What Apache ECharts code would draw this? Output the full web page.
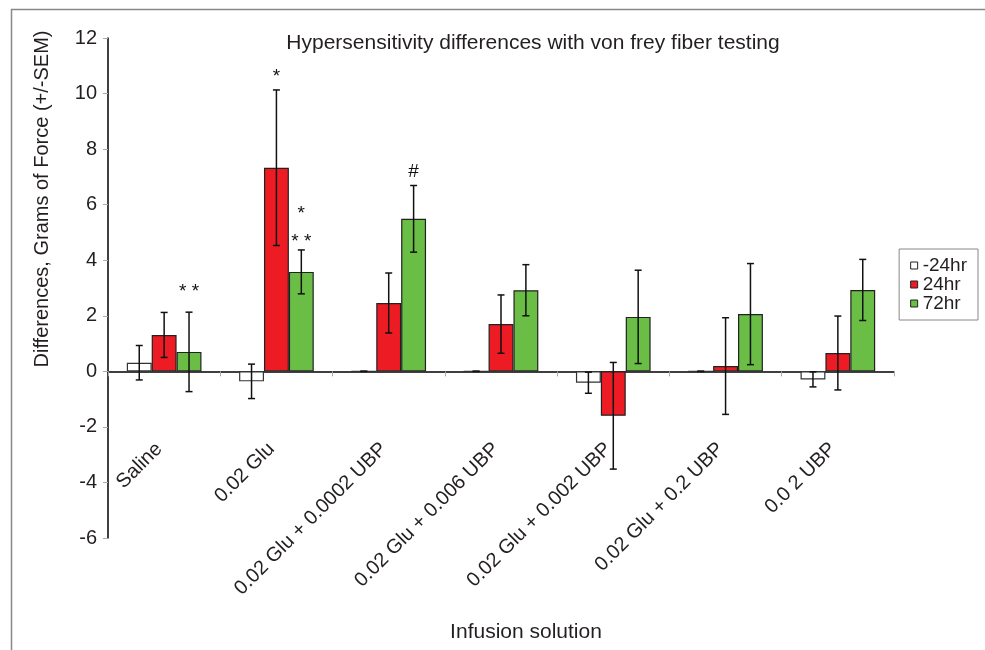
<!DOCTYPE html>
<html>
<head>
<meta charset="utf-8">
<script src="https://cdn.jsdelivr.net/npm/echarts@6/dist/echarts.min.js"></script>
<style>html,body{margin:0;padding:0;background:#fff}#c{width:985px;height:650px}</style>
</head>
<body>
<div id="c"></div>
<script>
const categories = ['Saline', '0.02 Glu', '0.02 Glu + 0.0002 UBP', '0.02 Glu + 0.006 UBP', '0.02 Glu + 0.002 UBP', '0.02 Glu + 0.2 UBP', '0.0 2 UBP'];
const seriesNames = ['-24hr', '24hr', '72hr'];
const valsNeg24 = [0.31, -0.36, 0, 0, -0.41, 0, -0.29];
const vals24 = [1.31, 7.33, 2.46, 1.70, -1.60, 0.19, 0.66];
const vals72 = [0.70, 3.58, 5.49, 2.92, 1.96, 2.06, 2.93];
const semNeg24 = [0.62, 0.62, 0, 0, 0.38, 0, 0.27];
const sem24 = [0.81, 2.80, 1.08, 1.05, 1.92, 1.74, 1.33];
const sem72 = [1.43, 0.79, 1.20, 0.92, 1.68, 1.82, 1.10];
const yTicks = { min: -6, max: 12, interval: 2 };
// annotations: category index, series index, y value (text center), text
const annCat = [0, 1, 1, 1, 2];
const annSeries = [2, 1, 2, 2, 2];
const annY = [2.85, 10.6, 5.69, 4.68, 7.2];
const annText = ['* *', '*', '*', '* *', '#'];

const colors = ['#ffffff', '#ed1c24', '#6abd45'];
const allVals = [valsNeg24, vals24, vals72];
const allSem = [semNeg24, sem24, sem72];
const CAT_GAP = 0.335;

const errData = [];
for (let s = 0; s < 3; s++) for (let c = 0; c < categories.length; c++) errData.push([c, s, allVals[s][c], allSem[s][c]]);
const annData = annCat.map((c, i) => [c, annSeries[i], annY[i]]);

function barX(api, c, s) {
  const band = api.size([1, 0])[0];
  const bw = band * (1 - CAT_GAP) / 3;
  return api.coord([c, 0])[0] + (s - 1) * bw;
}

const FF = 'Liberation Sans, Arial, sans-serif';
const chart = echarts.init(document.getElementById('c'), null, { renderer: 'canvas' });
const txt = '#231f20';
chart.setOption({
  animation: false,
  backgroundColor: '#fff',
  textStyle: { fontFamily: FF },
  title: {
    text: 'Hypersensitivity differences with von frey fiber testing',
    left: 528, top: 28, textAlign: 'center',
    textStyle: { fontSize: 21, fontWeight: 'normal', color: txt, fontFamily: FF }
  },
  legend: {
    orient: 'vertical', right: 7, top: 249,
    data: seriesNames,
    borderColor: '#888', borderWidth: 1, padding: [7, 11, 7, 11],
    itemWidth: 7, itemHeight: 7, itemGap: 0,
    icon: 'rect',
    itemStyle: { borderColor: '#222', borderWidth: 1 },
    textStyle: { fontSize: 19, lineHeight: 18.5, color: txt, padding: [0, 0, 0, 0] }
  },
  grid: { left: 108, right: 91, top: 38, bottom: 112, containLabel: false, outerBoundsMode: 'none' },
  xAxis: {
    type: 'category', data: categories,
    axisLine: { onZero: true, lineStyle: { color: '#000', width: 1.5 } },
    axisTick: { show: true, length: 5, lineStyle: { color: '#aaa' } },
    axisLabel: { rotate: 45, margin: -97, fontSize: 20, color: txt, interval: 0, padding: [0, 7, 0, 0] },
    splitLine: { show: false }
  },
  yAxis: {
    type: 'value', min: yTicks.min, max: yTicks.max, interval: yTicks.interval,
    axisLine: { show: true, lineStyle: { color: '#000', width: 1.5 } },
    axisTick: { show: true, length: 5, lineStyle: { color: '#aaa' } },
    axisLabel: { fontSize: 20, color: txt, margin: 11 },
    splitLine: { show: false }
  },
  graphic: [
    { type: 'line', shape: { x1: 11, y1: 9.5, x2: 985, y2: 9.5 }, style: { stroke: '#888', lineWidth: 1.5 } },
    { type: 'line', shape: { x1: 11.5, y1: 9, x2: 11.5, y2: 650 }, style: { stroke: '#888', lineWidth: 1.5 } },
    { type: 'text', x: 42, y: 199, rotation: Math.PI / 2,
      style: { text: 'Differences, Grams of Force (+/-SEM)', fill: txt, align: 'center', verticalAlign: 'middle', font: '20px Liberation Sans, Arial, sans-serif' } },
    { type: 'text', x: 526, y: 632,
      style: { text: 'Infusion solution', fill: txt, align: 'center', verticalAlign: 'middle', font: '21px Liberation Sans, Arial, sans-serif' } }
  ],
  series: [
    ...seriesNames.map((n, s) => ({
      name: n, type: 'bar', data: allVals[s],
      barGap: '0%', barCategoryGap: (CAT_GAP * 100) + '%',
      itemStyle: { color: colors[s], borderColor: s === 0 ? '#333' : '#222', borderWidth: 1.2 },
      z: 2
    })),
    {
      type: 'custom', name: 'err', z: 5, data: errData,
      renderItem(params, api) {
        const c = api.value(0), s = api.value(1), v = api.value(2), e = api.value(3);
        const x = barX(api, c, s);
        const yt = api.coord([c, v + e])[1];
        const yb = api.coord([c, v - e])[1];
        const st = { stroke: '#111', lineWidth: 1.5 };
        return { type: 'group', children: [
          { type: 'line', shape: { x1: x, y1: yt, x2: x, y2: yb }, style: st },
          { type: 'line', shape: { x1: x - 3.5, y1: yt, x2: x + 3.5, y2: yt }, style: st },
          { type: 'line', shape: { x1: x - 3.5, y1: yb, x2: x + 3.5, y2: yb }, style: st }
        ] };
      }
    },
    {
      type: 'custom', name: 'ann', z: 6, data: annData,
      renderItem(params, api) {
        const c = api.value(0), s = api.value(1), yv = api.value(2);
        const x = barX(api, c, s);
        const y = api.coord([c, yv])[1];
        return { type: 'text', x: x, y: y,
          style: { text: annText[params.dataIndex], fill: '#111', align: 'center', verticalAlign: 'middle', font: '19px Liberation Sans, Arial, sans-serif' } };
      }
    }
  ]
});
</script>
</body>
</html>
